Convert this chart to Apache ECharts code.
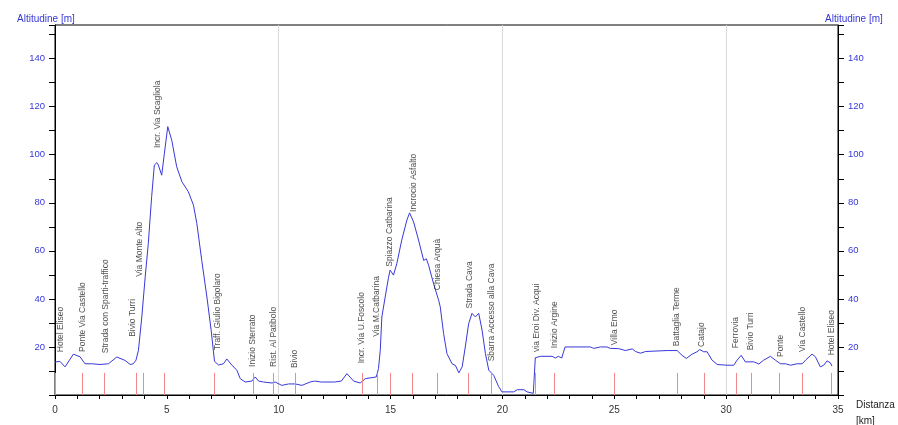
<!DOCTYPE html>
<html>
<head>
<meta charset="utf-8">
<script src="https://cdn.jsdelivr.net/npm/echarts@6/dist/echarts.min.js"></script>
<style>html,body{margin:0;padding:0;background:#fff}#c{width:898px;height:425px}</style>
</head>
<body>
<div id="c"></div>
<script>
// Profile: distance [km], altitude [m]
const profileKm = [0,0.22,0.45,0.82,1.12,1.34,1.64,2.01,2.39,2.76,3.13,3.36,3.5,3.62,3.73,3.88,4.03,4.17,4.32,4.44,4.55,4.62,4.77,4.89,5.04,5.22,5.44,5.67,5.96,6.19,6.34,6.56,6.79,6.98,7.13,7.31,7.53,7.68,7.9,8.13,8.28,8.5,8.8,8.95,9.1,9.32,9.7,9.84,10.14,10.44,10.74,11.04,11.4,11.6,11.9,12.5,12.8,13.05,13.35,13.64,13.87,13.94,14.36,14.46,14.54,14.61,14.76,14.91,14.98,15.13,15.28,15.5,15.73,15.85,16.03,16.25,16.48,16.6,16.7,16.92,17.15,17.22,17.37,17.52,17.75,17.9,18.05,18.2,18.34,18.49,18.64,18.79,18.94,19.09,19.24,19.39,19.61,19.83,19.98,20.5,20.66,20.96,21.1,21.38,21.47,21.7,22.22,22.37,22.5,22.65,22.8,23.93,24.08,24.38,24.67,24.82,25.2,25.27,25.5,25.57,25.8,25.95,26.17,26.4,27.36,27.81,28.03,28.22,28.48,28.7,28.82,29.0,29.15,29.37,29.6,30.04,30.34,30.49,30.67,30.86,31.24,31.46,31.68,31.98,32.2,32.43,32.65,32.88,33.17,33.4,33.55,33.84,33.99,34.21,34.36,34.51,34.66,34.73];
const profileAlt = [13.7,14,11.7,17,15.9,13,13,12.7,13,15.8,14.4,12.7,13,14.5,18.6,32.5,49,63,82.5,95.7,96.7,95.7,91.5,100.6,111.7,106,95,88.8,84.6,79,71.4,56,40.8,27,14,12.5,13,15,12.5,10.3,6.8,5.4,5.8,7.5,5.8,5.4,5,5.4,4,4.6,4.6,4,5.4,5.8,5.4,5.4,5.8,8.9,5.8,5,6.8,7.2,7.5,11,18.6,32.5,40.8,49,52,49.9,54.7,64.5,72.8,75.8,72,64.5,56,56.7,54,46.4,39.4,36.7,25.6,17.2,13,12.3,9.2,11.7,20,29.7,34,32.5,34,27,17.2,10.3,8.2,3.5,1.3,1.3,2.2,2.2,1.3,0.7,15.5,16.1,16.1,15.4,16.1,15.4,20,20,19.4,20,20,19.4,19.3,18.5,18.5,19.2,19.2,18.1,17.4,18.1,18.5,18.5,16.5,15.2,17,18,18.9,18,18,14.5,12.7,12.4,12.4,14.5,16.5,13.8,13.8,12.9,14.5,16.1,14.5,13,13,12.4,13,13,14.5,17,15.9,11.7,12.4,14.2,13.4,12];

// Waypoints
const wpNames = ["Hotel Eliseo","Ponte Via Castello","Strada con Sparti-traffico","Bivio Turri","Via Monte Alto","Incr. Via Scagliola","Traff. Giulio Bigolaro","Inizio Sterrato","Rist. Al Patibolo","Bivio","Incr. Via U.Foscolo","Via M.Catbarina","Spiazzo Catbarina","Incrocio Asfalto","Chiesa Arquà","Strada Cava","Sbarra Accesso alla Cava","via Eroi Div. Acqui","Inizio Argine","Villa Emo","Battaglia Terme","Catajo","Ferrovia","Bivio Turri","Ponte","Via Castello","Hotel Eliseo"];
const wpKm = [0,1.24,2.21,3.61,3.95,4.88,7.14,8.87,9.77,10.72,13.72,14.42,15.0,15.99,17.1,18.49,19.49,21.47,22.33,25.02,27.81,29.0,30.44,31.1,32.38,33.4,34.72];
const labelKm = [0.27,1.24,2.28,3.49,3.8,4.61,7.29,8.84,9.77,10.7,13.72,14.4,14.96,16.03,17.12,18.52,19.52,21.52,22.33,25.0,27.81,28.92,30.44,31.1,32.44,33.4,34.72];
const labelAlt = [17.8,17.9,17.4,24.2,49.2,102.8,18.6,11.7,11.7,11.2,13.2,24.2,53.4,76.2,43.6,36,14,17.9,19.5,20.7,20.3,20,19.5,18.6,15.8,17.9,16.5];

const xTicks = [0,5,10,15,20,25,30,35];
const yTicks = [20,40,60,80,100,120,140];
const yName = 'Altitudine [m]';

const blue = '#3838d8';
const font = 'Liberation Sans, Arial';
const chart = echarts.init(document.getElementById('c'));

const yAxisBase = (pos) => ({
  type: 'value', min: 0, max: 154, interval: 10, position: pos, offset: 0,
  axisLine: { show: true, onZero: false, lineStyle: { color: '#000', width: 1 } },
  axisTick: { show: true, inside: false, length: 6, lineStyle: { color: '#000' } },
  axisLabel: { color: blue, fontSize: 9.5, margin: 10, fontFamily: font,
    formatter: v => yTicks.includes(v) ? String(v) : '' },
  splitLine: { show: false }
});

chart.setOption({
  animation: false,
  backgroundColor: '#fff',
  title: [
    { text: yName, left: 12, top: 9, textStyle: { color: blue, fontSize: 10, fontWeight: 'normal', fontFamily: font } },
    { text: yName, left: 820, top: 9, textStyle: { color: blue, fontSize: 10, fontWeight: 'normal', fontFamily: font } }
  ],
  grid: { left: 55, right: 60, top: 25, bottom: 30, show: true, borderColor: '#000', borderWidth: 1,
    containLabel: false, outerBoundsMode: 'none' },
  xAxis: [{
    type: 'value', min: 0, max: 35, interval: 1,
    name: 'Distanza\n[km]', nameLocation: 'end', nameGap: 18,
    nameTextStyle: { color: '#222', fontSize: 10, fontFamily: font, align: 'left', verticalAlign: 'top', lineHeight: 16, padding: [2,0,0,0] },
    axisLine: { show: true, onZero: false, lineStyle: { color: '#000', width: 1 } },
    axisTick: { show: true, length: 4, lineStyle: { color: '#000' } },
    axisLabel: { color: '#333', fontSize: 10, margin: 10, fontFamily: font,
      formatter: v => xTicks.includes(v) ? String(v) : '' },
    splitLine: { show: false }
  }, {
    type: 'value', min: 0, max: 35, interval: 10, position: 'top',
    axisLine: { show: false }, axisTick: { show: false }, axisLabel: { show: false },
    splitLine: { show: true, lineStyle: { color: '#d9d9d9', width: 1 } }
  }],
  yAxis: [yAxisBase('left'), yAxisBase('right')],
  series: [{
    type: 'line',
    data: profileKm.map((k, i) => [k, profileAlt[i]]),
    symbol: 'none',
    lineStyle: { color: blue, width: 1 },
    z: 3,
    markLine: {
      silent: true, symbol: 'none', label: { show: false },
      lineStyle: { color: '#f08a8a', width: 1, type: 'solid' },
      data: wpKm.map(k => [{ coord: [k, 0] }, { coord: [k, 9.2] }])
    }
  }, {
    type: 'scatter',
    symbolSize: 0,
    data: labelKm.map((k, i) => ({ value: [k, labelAlt[i]], name: wpNames[i] })),
    label: {
      show: true, position: 'inside', rotate: 90, align: 'left', verticalAlign: 'middle',
      formatter: p => p.name, color: '#222', fontSize: 8.5, fontFamily: font
    },
    z: 4
  }]
});
</script>
</body>
</html>
